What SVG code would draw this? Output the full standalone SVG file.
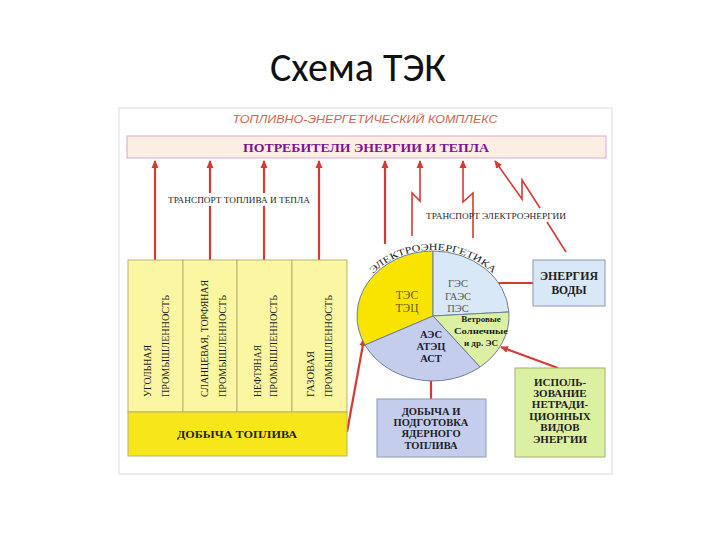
<svg xmlns="http://www.w3.org/2000/svg" width="720" height="540" viewBox="0 0 720 540">
<defs>
<marker id="ah" markerWidth="8" markerHeight="8" refX="7" refY="4" orient="auto" markerUnits="userSpaceOnUse">
<path d="M0,0.5 L8,4 L0,7.5 Z" fill="#d63a34"/>
</marker>
<path id="arcp" d="M 354,318 A 79 68 0 0 1 512,318" fill="none"/>
</defs>
<style>
.ln{fill:none;stroke:#d63a34;stroke-width:2.2;stroke-linejoin:miter}
.lt{fill:none;stroke:#d63a34;stroke-width:1.6;stroke-linejoin:miter}
.sr{font-family:"Liberation Serif","DejaVu Serif",serif;fill:#1e1e1e}
.b{font-weight:bold}
.col{fill:#fbf6a2;stroke:#b9b46a;stroke-width:1}
.ct{font-size:10px}
.mid{text-anchor:middle}
</style>
<rect width="720" height="540" fill="#ffffff"/>
<text x="358" y="81" font-family="Carlito,'Liberation Sans',Arial,sans-serif" font-size="40" fill="#111" text-anchor="middle">Схема ТЭК</text>

<rect x="119" y="108" width="493" height="366" fill="#fff" stroke="#e2e2e2" stroke-width="1.2"/>
<text x="365" y="123" font-family="'Liberation Sans',Arial,sans-serif" font-style="italic" font-size="11.5" fill="#cc6650" text-anchor="middle" textLength="265" lengthAdjust="spacingAndGlyphs">ТОПЛИВНО-ЭНЕРГЕТИЧЕСКИЙ КОМПЛЕКС</text>

<g id="consumers">
<rect x="127" y="136" width="479" height="22" fill="#fbefe4" stroke="#dcb8d8" stroke-width="1.2"/>
<text x="366" y="152" class="sr b mid" font-size="12.5" style="fill:#80109a" textLength="246" lengthAdjust="spacingAndGlyphs">ПОТРЕБИТЕЛИ ЭНЕРГИИ И ТЕПЛА</text>
</g>

<g id="connectors">
<line class="ln" x1="155" y1="260" x2="155" y2="161" marker-end="url(#ah)"/>
<line class="ln" x1="210" y1="260" x2="210" y2="161" marker-end="url(#ah)"/>
<line class="ln" x1="264" y1="260" x2="264" y2="161" marker-end="url(#ah)"/>
<line class="ln" x1="319" y1="260" x2="319" y2="161" marker-end="url(#ah)"/>
<line class="ln" x1="385" y1="244" x2="385" y2="161" marker-end="url(#ah)"/>
<polyline class="lt" points="412,236 412,193 420,201 420,161" marker-end="url(#ah)"/>
<polyline class="lt" points="473,238 473,193 463,202 463,161" marker-end="url(#ah)"/>
<polyline class="lt" points="540,208 522,180 522,199 495,161" marker-end="url(#ah)"/>
<line class="lt" x1="547" y1="222" x2="566" y2="252"/>
<line class="ln" x1="347" y1="432" x2="364" y2="339" marker-end="url(#ah)"/>
<line class="ln" x1="533" y1="283" x2="483" y2="283" marker-end="url(#ah)"/>
<line class="ln" x1="431" y1="399" x2="431" y2="370" marker-end="url(#ah)"/>
<line class="ln" x1="558" y1="368" x2="501" y2="347" marker-end="url(#ah)"/>
</g>

<g id="transport-fuel">
<rect x="166" y="193" width="146" height="13" fill="#fff"/>
<text x="239" y="203" class="sr mid" font-size="9" textLength="142" lengthAdjust="spacingAndGlyphs">ТРАНСПОРТ ТОПЛИВА И ТЕПЛА</text>
</g>
<g id="transport-electro">
<text x="496" y="219" class="sr mid" font-size="9" textLength="140" lengthAdjust="spacingAndGlyphs">ТРАНСПОРТ ЭЛЕКТРОЭНЕРГИИ</text>
</g>

<g id="fuel">
<rect class="col" x="128" y="260" width="55" height="152"/>
<rect class="col" x="183" y="260" width="54" height="152"/>
<rect class="col" x="237" y="260" width="55" height="152"/>
<rect class="col" x="292" y="260" width="55" height="152"/>
<rect x="128" y="412" width="219" height="44" fill="#f7e71a" stroke="#b9b46a" stroke-width="1"/>
<text class="sr ct" transform="translate(151,397) rotate(-90)" textLength="52" lengthAdjust="spacingAndGlyphs">УГОЛЬНАЯ</text>
<text class="sr ct" transform="translate(169,397) rotate(-90)" textLength="102" lengthAdjust="spacingAndGlyphs">ПРОМЫШЛЕННОСТЬ</text>
<text class="sr ct" transform="translate(208,397) rotate(-90)" textLength="117" lengthAdjust="spacingAndGlyphs">СЛАНЦЕВАЯ, ТОРФЯНАЯ</text>
<text class="sr ct" transform="translate(226,397) rotate(-90)" textLength="102" lengthAdjust="spacingAndGlyphs">ПРОМЫШЛЕННОСТЬ</text>
<text class="sr ct" transform="translate(261,397) rotate(-90)" textLength="52" lengthAdjust="spacingAndGlyphs">НЕФТЯНАЯ</text>
<text class="sr ct" transform="translate(277,397) rotate(-90)" textLength="102" lengthAdjust="spacingAndGlyphs">ПРОМЫШЛЕННОСТЬ</text>
<text class="sr ct" transform="translate(314,397) rotate(-90)" textLength="46" lengthAdjust="spacingAndGlyphs">ГАЗОВАЯ</text>
<text class="sr ct" transform="translate(332,397) rotate(-90)" textLength="102" lengthAdjust="spacingAndGlyphs">ПРОМЫШЛЕННОСТЬ</text>
<text x="237" y="438" class="sr b mid" font-size="11" textLength="120" lengthAdjust="spacingAndGlyphs">ДОБЫЧА ТОПЛИВА</text>
</g>

<g id="electro" stroke="#6f7e9c" stroke-width="1">
<path d="M433,316 L433,251 A76,65 0 0 0 365,345 Z" fill="#f9e400"/>
<path d="M433,316 L433,251 A76,65 0 0 1 508.9,312 Z" fill="#d9e8f6"/>
<path d="M433,316 L508.9,312 A76,65 0 0 1 480,367 Z" fill="#dcf0a2"/>
<path d="M433,316 L480,367 A76,65 0 0 1 365,345 Z" fill="#c5cdec"/>
</g>
<g id="electro-labels">
<text class="sr" font-size="9.5"><textPath href="#arcp" startOffset="50%" text-anchor="middle" textLength="132" lengthAdjust="spacingAndGlyphs">ЭЛЕКТРОЭНЕРГЕТИКА</textPath></text>
<text x="407" y="299" class="sr mid" font-size="11.5" style="fill:#6b5a1a">ТЭС</text>
<text x="407" y="312" class="sr mid" font-size="11.5" style="fill:#6b5a1a">ТЭЦ</text>
<text x="458" y="287" class="sr mid" font-size="10.5" style="fill:#5a5a5a">ГЭС</text>
<text x="458" y="300" class="sr mid" font-size="10.5" style="fill:#5a5a5a">ГАЭС</text>
<text x="458" y="312" class="sr mid" font-size="10.5" style="fill:#5a5a5a">ПЭС</text>
<text x="481" y="322" class="sr b mid" font-size="9">Ветровые</text>
<text x="481" y="334" class="sr b mid" font-size="9" textLength="54" lengthAdjust="spacingAndGlyphs">Солнечные</text>
<text x="481" y="346" class="sr b mid" font-size="9">и др. ЭС</text>
<text x="431" y="338" class="sr b mid" font-size="10.5" style="fill:#1c1c3a">АЭС</text>
<text x="431" y="350" class="sr b mid" font-size="10.5" style="fill:#1c1c3a">АТЭЦ</text>
<text x="431" y="362" class="sr b mid" font-size="10.5" style="fill:#1c1c3a">АСТ</text>
</g>

<g id="water">
<rect x="533" y="260" width="72" height="46" fill="#d9e8f6" stroke="#8a98b0" stroke-width="1"/>
<text x="569" y="280" class="sr b mid" font-size="11.5" textLength="58" lengthAdjust="spacingAndGlyphs">ЭНЕРГИЯ</text>
<text x="569" y="294" class="sr b mid" font-size="11.5">ВОДЫ</text>
</g>

<g id="nuclear">
<rect x="377" y="399" width="109" height="58" fill="#c5cdec" stroke="#8a98b8" stroke-width="1"/>
<text x="431" y="415" class="sr b mid" font-size="10.5">ДОБЫЧА И</text>
<text x="431" y="426" class="sr b mid" font-size="10.5">ПОДГОТОВКА</text>
<text x="431" y="437" class="sr b mid" font-size="10.5">ЯДЕРНОГО</text>
<text x="431" y="449" class="sr b mid" font-size="10.5">ТОПЛИВА</text>
</g>

<g id="nontraditional">
<rect x="515" y="368" width="90" height="89" fill="#dcf0a2" stroke="#a2b070" stroke-width="1"/>
<text x="560" y="386" class="sr b mid" font-size="11">ИСПОЛЬ-</text>
<text x="560" y="397" class="sr b mid" font-size="11">ЗОВАНИЕ</text>
<text x="560" y="408" class="sr b mid" font-size="11">НЕТРАДИ-</text>
<text x="560" y="420" class="sr b mid" font-size="11">ЦИОННЫХ</text>
<text x="560" y="431" class="sr b mid" font-size="11">ВИДОВ</text>
<text x="560" y="443" class="sr b mid" font-size="11">ЭНЕРГИИ</text>
</g>
</svg>
